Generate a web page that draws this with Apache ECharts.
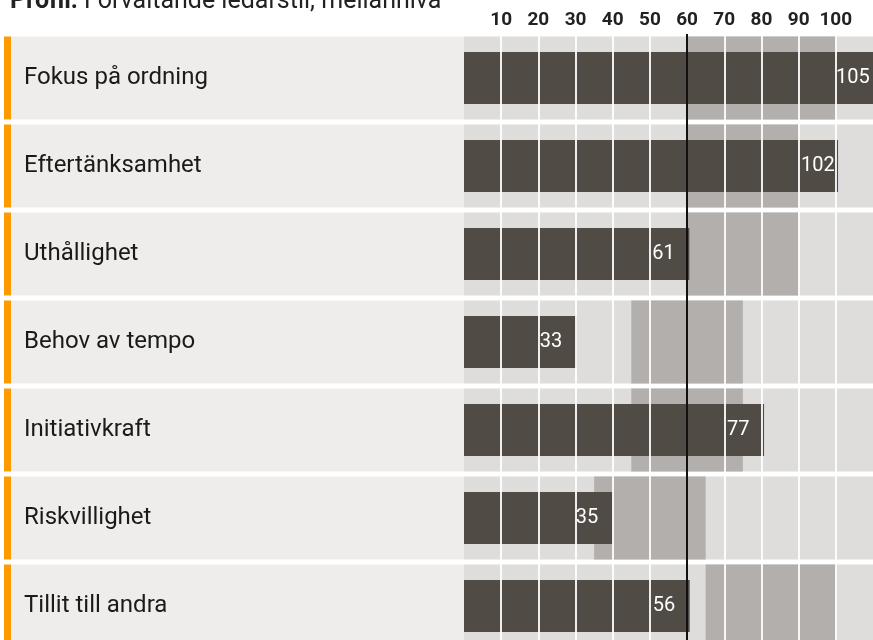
<!DOCTYPE html>
<html>
<head>
<meta charset="utf-8">
<script src="https://cdn.jsdelivr.net/npm/echarts@6/dist/echarts.min.js"></script>
<style>
  html, body { margin: 0; padding: 0; background: #fff; }
  #profile-chart { width: 873px; height: 640px; }
</style>
</head>
<body>
<div id="profile-chart"></div>
<script>
// data
var categories = ['Fokus på ordning', 'Eftertänksamhet', 'Uthållighet', 'Behov av tempo', 'Initiativkraft', 'Riskvillighet', 'Tillit till andra'];
var scores = [105, 102, 61, 33, 77, 35, 56];
var barEnds = [110, 100.6, 60.6, 30.3, 80.7, 40, 60.7];
var normLow = [60, 60, 60, 45, 45, 35, 65];
var normHigh = [100, 90, 90, 75, 75, 65, 100];
var tickLabels = [10, 20, 30, 40, 50, 60, 70, 80, 90, 100];
var refValue = 60;
var scaleMax = 110;

function drawProfileChart() {
    var dom = document.getElementById('profile-chart');
    var myChart = echarts.init(dom, null, { renderer: 'canvas' });
    var font = 'Roboto';

    var option = {
        animation: false,
        textStyle: { fontFamily: font },
        graphic: [
            {
                type: 'text',
                x: 10,
                y: 14,
                style: {
                    text: '{b|Profil:} Förvaltande ledarstil, mellannivå',
                    font: '25px Roboto',
                    fill: '#222',
                    verticalAlign: 'bottom',
                    rich: {
                        b: { fontWeight: 'bold', fontSize: 25, fontFamily: font, fill: '#222' }
                    }
                }
            }
        ],
        grid: [
            { left: 464, right: 0, top: 34, height: 616, outerBoundsMode: 'none' },
            { left: 4, width: 460, top: 34, height: 616, outerBoundsMode: 'none' }
        ],
        xAxis: [
            {
                gridIndex: 0,
                type: 'value',
                position: 'top',
                min: 0,
                max: scaleMax,
                interval: 10,
                axisLine: { show: false },
                axisTick: { show: false },
                splitLine: { show: false },
                axisLabel: {
                    margin: 4,
                    fontSize: 19,
                    fontWeight: 'bold',
                    color: '#222',
                    fontFamily: font,
                    formatter: function (v) {
                        return tickLabels.indexOf(v) >= 0 ? String(v) : '';
                    }
                }
            },
            { gridIndex: 1, type: 'value', min: 0, max: 460, show: false }
        ],
        yAxis: [
            { gridIndex: 0, type: 'category', data: categories, inverse: true, show: false },
            { gridIndex: 0, type: 'category', data: categories, inverse: true, show: false },
            { gridIndex: 1, type: 'category', data: categories, inverse: true, show: false }
        ],
        series: [
            // left panel: orange marker + label box
            {
                type: 'bar',
                xAxisIndex: 1,
                yAxisIndex: 2,
                stack: 'panel',
                barWidth: 83,
                silent: true,
                itemStyle: { color: '#ff9900' },
                data: categories.map(function () { return 7; })
            },
            {
                type: 'bar',
                xAxisIndex: 1,
                yAxisIndex: 2,
                stack: 'panel',
                barWidth: 83,
                silent: true,
                itemStyle: { color: '#eeedeb' },
                label: {
                    show: true,
                    position: 'insideLeft',
                    distance: 13,
                    formatter: '{b}',
                    fontSize: 24,
                    color: '#1a1a1a',
                    fontFamily: font
                },
                data: categories.map(function () { return 453; })
            },
            // light cells
            {
                type: 'bar',
                xAxisIndex: 0,
                yAxisIndex: 0,
                barWidth: 83,
                barGap: '-100%',
                silent: true,
                itemStyle: { color: '#dedddb' },
                data: categories.map(function () { return scaleMax; })
            },
            // norm range
            {
                type: 'bar',
                xAxisIndex: 0,
                yAxisIndex: 0,
                stack: 'norm',
                barWidth: 83,
                barGap: '-100%',
                silent: true,
                itemStyle: { color: 'rgba(0,0,0,0)' },
                data: normLow
            },
            {
                type: 'bar',
                xAxisIndex: 0,
                yAxisIndex: 0,
                stack: 'norm',
                barWidth: 83,
                barGap: '-100%',
                silent: true,
                itemStyle: { color: '#b3afac' },
                data: normHigh.map(function (v, i) { return v - normLow[i]; })
            },
            // score bars
            {
                type: 'bar',
                xAxisIndex: 0,
                yAxisIndex: 1,
                barWidth: 52,
                z: 3,
                itemStyle: { color: '#504b45' },
                label: {
                    show: true,
                    position: ['100%', '50%'],
                    offset: [-37, 0],
                    align: 'left',
                    verticalAlign: 'middle',
                    fontSize: 20,
                    color: '#fff',
                    fontFamily: font,
                    formatter: function (p) { return String(scores[p.dataIndex]); }
                },
                data: barEnds
            },
            // white column separators
            {
                type: 'line',
                xAxisIndex: 0,
                yAxisIndex: 0,
                data: [],
                z: 5,
                markLine: {
                    silent: true,
                    symbol: ['none', 'none'],
                    label: { show: false },
                    lineStyle: { color: 'rgba(255,255,255,0.9)', width: 2, type: 'solid' },
                    data: tickLabels.map(function (v) { return { xAxis: v }; })
                }
            },
            // reference line
            {
                type: 'line',
                xAxisIndex: 0,
                yAxisIndex: 0,
                data: [],
                z: 6,
                markLine: {
                    silent: true,
                    symbol: ['none', 'none'],
                    label: { show: false },
                    lineStyle: { color: '#111', width: 2, type: 'solid' },
                    data: [{ xAxis: refValue }]
                }
            }
        ]
    };

    myChart.setOption(option);
    window.addEventListener('resize', myChart.resize);
}

drawProfileChart();
</script>
</body>
</html>
